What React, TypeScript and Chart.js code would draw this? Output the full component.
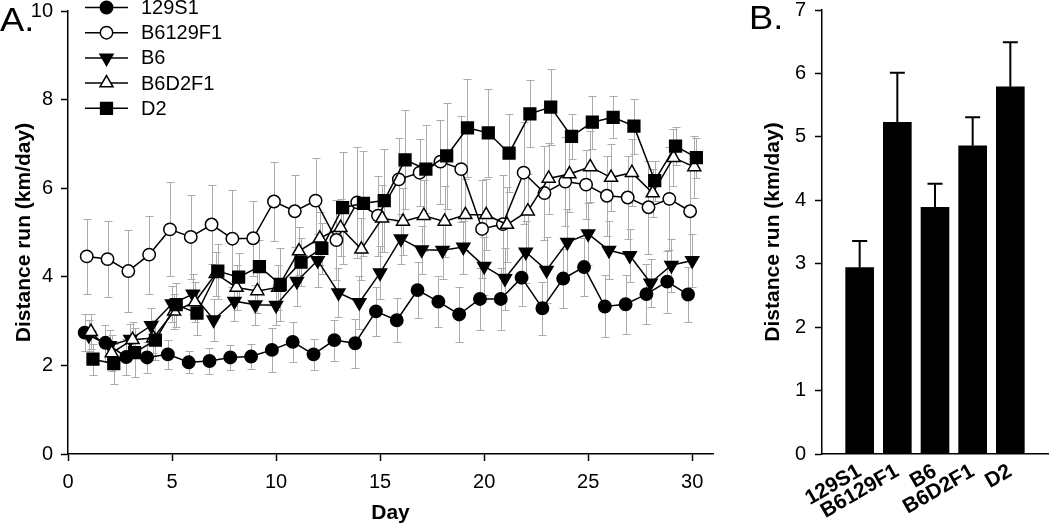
import React, { useEffect, useRef } from 'react';
import { Chart, registerables } from 'chart.js';
import { drawPoint } from 'chart.js/helpers';

Chart.register(...registerables);

// ---------- DATA ----------
const DAYS = [1, 2, 3, 4, 5, 6, 7, 8, 9, 10, 11, 12, 13, 14, 15, 16, 17, 18, 19, 20, 21, 22, 23, 24, 25, 26, 27, 28, 29, 30];
const SERIES_NAMES = ['129S1', 'B6129F1', 'B6', 'B6D2F1', 'D2'];

const S_129S1 = [2.74, 2.51, 2.19, 2.18, 2.25, 2.07, 2.10, 2.18, 2.20, 2.35, 2.53, 2.25, 2.57, 2.50, 3.22, 3.02, 3.70, 3.44, 3.15, 3.50, 3.50, 3.98, 3.29, 3.96, 4.22, 3.33, 3.38, 3.61, 3.89, 3.60];
const S_B6129F1 = [4.46, 4.40, 4.13, 4.50, 5.07, 4.90, 5.18, 4.86, 4.87, 5.70, 5.48, 5.72, 4.83, 5.68, 5.38, 6.20, 6.35, 6.60, 6.43, 5.08, 5.19, 6.35, 5.89, 6.15, 6.08, 5.83, 5.79, 5.57, 5.76, 5.48];
const S_B6 = [2.68, 2.45, 2.59, 2.90, 3.39, 3.61, 3.03, 3.45, 3.37, 3.36, 3.90, 4.37, 3.64, 3.42, 4.09, 4.86, 4.61, 4.60, 4.67, 4.24, 3.96, 4.56, 4.15, 4.78, 4.97, 4.60, 4.48, 3.86, 4.26, 4.37];
const S_B6D2F1 = [2.76, 2.28, 2.58, 2.62, 3.22, 3.43, 4.07, 3.76, 3.68, 3.76, 4.58, 4.87, 5.11, 4.62, 5.32, 5.25, 5.38, 5.25, 5.40, 5.40, 5.18, 5.48, 6.22, 6.32, 6.48, 6.24, 6.35, 5.89, 6.69, 6.48];
const S_D2 = [2.14, 2.04, 2.29, 2.57, 3.37, 3.18, 4.13, 3.99, 4.23, 3.83, 4.33, 4.64, 5.56, 5.66, 5.72, 6.64, 6.43, 6.73, 7.36, 7.25, 6.79, 7.68, 7.83, 7.17, 7.49, 7.60, 7.40, 6.17, 6.95, 6.69];

const E_129S1 = [0.42, 0.40, 0.40, 0.35, 0.33, 0.25, 0.30, 0.28, 0.28, 0.50, 0.45, 0.35, 0.46, 0.55, 0.55, 0.50, 0.64, 0.57, 0.63, 0.70, 0.70, 0.65, 0.60, 0.67, 0.65, 0.70, 0.67, 0.68, 0.70, 0.63];
const E_B6129F1 = [0.85, 0.85, 0.92, 0.88, 1.06, 0.94, 0.90, 1.10, 0.85, 0.90, 0.81, 0.96, 0.90, 1.25, 0.90, 0.94, 0.75, 0.95, 1.20, 1.10, 1.10, 1.15, 1.06, 1.00, 0.78, 0.90, 0.94, 1.05, 1.16, 1.06];
const E_B6 = [0.35, 0.35, 0.35, 0.40, 0.40, 0.45, 0.47, 0.45, 0.45, 0.45, 0.55, 0.60, 0.55, 0.60, 0.60, 0.56, 0.54, 0.65, 0.60, 0.65, 0.70, 0.70, 0.75, 0.75, 0.70, 0.65, 0.60, 0.55, 0.60, 0.60];
const E_B6D2F1 = [0.40, 0.40, 0.40, 0.35, 0.40, 0.45, 0.50, 0.50, 0.50, 0.50, 0.55, 0.60, 0.65, 0.70, 0.75, 0.75, 0.80, 0.80, 0.80, 0.80, 0.85, 0.85, 0.80, 0.85, 0.80, 0.75, 0.75, 0.55, 0.65, 0.70];
const E_D2 = [0.35, 0.45, 0.55, 0.45, 0.50, 0.50, 0.62, 0.55, 0.60, 0.82, 0.54, 0.58, 1.26, 1.18, 1.16, 1.12, 0.99, 1.20, 1.10, 1.00, 0.88, 0.76, 0.86, 0.50, 0.60, 0.47, 0.62, 0.45, 0.43, 0.45];

const X_TICKS_A = [0, 5, 10, 15, 20, 25, 30];
const Y_TICKS_A = [0, 2, 4, 6, 8, 10];

const BAR_LABELS = ['129S1', 'B6129F1', 'B6', 'B6D2F1', 'D2'];
const BAR_MEANS = [2.94, 5.23, 3.89, 4.86, 5.79];
const BAR_SEM = [0.42, 0.78, 0.37, 0.45, 0.70];
const Y_TICKS_B = [0, 1, 2, 3, 4, 5, 6, 7];

const Y_TITLE = 'Distance run (km/day)';
const X_TITLE = 'Day';

// ---------- STYLES ----------
const FONT = '"Liberation Sans", Arial, Helvetica, sans-serif';
const SERIES_VALUES = [S_129S1, S_B6129F1, S_B6, S_B6D2F1, S_D2];
const SERIES_ERRORS = [E_129S1, E_B6129F1, E_B6, E_B6D2F1, E_D2];
const SERIES_STYLE = [
  { shift: -0.2, pointStyle: 'circle', fill: '#000000', radius: 6.2, rotation: 0 },
  { shift: -0.1, pointStyle: 'circle', fill: '#ffffff', radius: 6.2, rotation: 0 },
  { shift: 0, pointStyle: 'triangle', fill: '#000000', radius: 7.5, rotation: 180 },
  { shift: 0.1, pointStyle: 'triangle', fill: '#ffffff', radius: 7.5, rotation: 0 },
  { shift: 0.2, pointStyle: 'rect', fill: '#000000', radius: 8.3, rotation: 0 },
];

const errorBarsA = {
  id: 'errorBarsA',
  beforeDatasetsDraw(chart: any) {
    const { ctx, scales } = chart;
    const xs = scales.x, ys = scales.y;
    ctx.save();
    ctx.strokeStyle = '#acacac';
    ctx.lineWidth = 1;
    chart.data.datasets.forEach((ds: any) => {
      ds.data.forEach((p: any, i: number) => {
        const e = ds.errors[i];
        const px = Math.round(xs.getPixelForValue(p.x)) + 0.5;
        const top = Math.round(ys.getPixelForValue(p.y + e)) + 0.5;
        const bot = Math.round(ys.getPixelForValue(p.y - e)) + 0.5;
        ctx.beginPath();
        ctx.moveTo(px, top); ctx.lineTo(px, bot);
        ctx.moveTo(px - 4, top); ctx.lineTo(px + 4, top);
        ctx.moveTo(px - 4, bot); ctx.lineTo(px + 4, bot);
        ctx.stroke();
      });
    });
    ctx.restore();
  },
};

const legendA = {
  id: 'legendA',
  afterDraw(chart: any) {
    const { ctx } = chart;
    ctx.save();
    chart.data.datasets.forEach((ds: any, i: number) => {
      const st = SERIES_STYLE[i];
      const yy = 7.5 + i * 25.2;
      ctx.strokeStyle = '#000';
      ctx.lineWidth = 1.5;
      ctx.beginPath();
      ctx.moveTo(85, yy); ctx.lineTo(128, yy);
      ctx.stroke();
      ctx.fillStyle = st.fill;
      ctx.strokeStyle = '#000';
      ctx.lineWidth = 1.5;
      drawPoint(ctx, { pointStyle: st.pointStyle as any, rotation: st.rotation, radius: st.radius, borderWidth: 1.5 }, 106.5, yy);
      ctx.fillStyle = '#000';
      ctx.font = `20px ${FONT}`;
      ctx.textBaseline = 'middle';
      ctx.textAlign = 'left';
      ctx.fillText(ds.label, 141, yy + 1);
    });
    ctx.restore();
  },
};

const makePanelLabel = (text: string, x: number, y: number) => ({
  id: 'panelLabel',
  afterDraw(chart: any) {
    const { ctx } = chart;
    ctx.save();
    ctx.translate(x, y);
    ctx.scale(1.1, 1);
    ctx.fillStyle = '#000';
    ctx.font = `33px ${FONT}`;
    ctx.textBaseline = 'alphabetic';
    ctx.textAlign = 'left';
    ctx.fillText(text, 0, 0);
    ctx.restore();
  },
});

const errorBarsB = {
  id: 'errorBarsB',
  afterDatasetsDraw(chart: any) {
    const { ctx, scales } = chart;
    const xs = scales.x, ys = scales.y;
    ctx.save();
    ctx.strokeStyle = '#000';
    ctx.lineWidth = 2;
    BAR_MEANS.forEach((m, i) => {
      const px = xs.getPixelForValue(i + 1);
      const top = ys.getPixelForValue(m + BAR_SEM[i]);
      const base = ys.getPixelForValue(m);
      ctx.beginPath();
      ctx.moveTo(px, base); ctx.lineTo(px, top);
      ctx.moveTo(px - 7.5, top); ctx.lineTo(px + 7.5, top);
      ctx.stroke();
    });
    ctx.restore();
  },
};

const fitVertical = (w: number) => (s: any) => {
  s.width = w;
  s.paddingTop = 0;
  s.paddingBottom = 0;
};
const fitHorizontal = (h: number) => (s: any) => {
  s.height = h;
  s.paddingLeft = 0;
  s.paddingRight = 0;
};

function buildConfigA(): any {
  return {
    type: 'line',
    data: {
      datasets: SERIES_VALUES.map((vals, k) => ({
        label: SERIES_NAMES[k],
        data: DAYS.map((d, i) => ({ x: d + SERIES_STYLE[k].shift, y: vals[i] })),
        errors: SERIES_ERRORS[k],
        borderColor: '#000',
        borderWidth: 1.5,
        pointStyle: SERIES_STYLE[k].pointStyle,
        pointRadius: SERIES_STYLE[k].radius,
        pointRotation: SERIES_STYLE[k].rotation,
        pointBackgroundColor: SERIES_STYLE[k].fill,
        pointBorderColor: '#000',
        pointBorderWidth: 1.5,
        pointHoverRadius: SERIES_STYLE[k].radius,
        fill: false,
        tension: 0,
        order: SERIES_VALUES.length - k,
      })),
    },
    options: {
      animation: false,
      responsive: true,
      maintainAspectRatio: false,
      events: [],
      layout: { padding: { left: 0, right: 27, top: 11, bottom: 0 } },
      plugins: { legend: { display: false }, tooltip: { enabled: false } },
      scales: {
        x: {
          type: 'linear',
          min: 0,
          max: 31,
          afterBuildTicks: (s: any) => { s.ticks = X_TICKS_A.map((v) => ({ value: v })); },
          afterFit: fitHorizontal(72),
          grid: { drawOnChartArea: false, drawTicks: true, tickLength: 7, tickColor: '#000', tickWidth: 1.5 },
          border: { display: true, color: '#000', width: 1.5 },
          ticks: { font: { family: FONT, size: 20 }, color: '#000', padding: 9, maxRotation: 0 },
          title: { display: true, text: X_TITLE, color: '#000', font: { family: FONT, size: 21, weight: 'bold' }, padding: { top: 0, bottom: 0 } },
        },
        y: {
          type: 'linear',
          min: 0,
          max: 10,
          afterBuildTicks: (s: any) => { s.ticks = Y_TICKS_A.map((v) => ({ value: v })); },
          afterFit: fitVertical(68),
          grid: { drawOnChartArea: false, drawTicks: true, tickLength: 7, tickColor: '#000', tickWidth: 1.5 },
          border: { display: true, color: '#000', width: 1.5 },
          ticks: { font: { family: FONT, size: 20 }, color: '#000', padding: 8 },
          title: { display: true, text: Y_TITLE, color: '#000', font: { family: FONT, size: 21, weight: 'bold' }, padding: { top: 12, bottom: 0 } },
        },
      },
    },
    plugins: [errorBarsA, legendA, makePanelLabel('A.', 0, 31)],
  };
}

function buildConfigB(): any {
  return {
    type: 'bar',
    data: {
      labels: ['', ...BAR_LABELS, ''],
      datasets: [
        {
          label: 'mean',
          data: [null, ...BAR_MEANS, null],
          backgroundColor: '#000',
          borderWidth: 0,
          barThickness: 28,
        },
      ],
    },
    options: {
      animation: false,
      responsive: true,
      maintainAspectRatio: false,
      events: [],
      layout: { padding: { left: 0, right: 2, top: 10, bottom: 0 } },
      plugins: { legend: { display: false }, tooltip: { enabled: false } },
      scales: {
        x: {
          type: 'category',
          offset: false,
          afterFit: fitHorizontal(72),
          grid: { display: false, drawTicks: false },
          border: { display: true, color: '#000', width: 1.5 },
          ticks: { font: { family: FONT, size: 21, weight: 'bold' }, color: '#000', padding: 5, minRotation: 30, maxRotation: 30, autoSkip: false },
        },
        y: {
          type: 'linear',
          min: 0,
          max: 7,
          afterBuildTicks: (s: any) => { s.ticks = Y_TICKS_B.map((v) => ({ value: v })); },
          afterFit: fitVertical(82),
          grid: { drawOnChartArea: false, drawTicks: true, tickLength: 7, tickColor: '#000', tickWidth: 1.5 },
          border: { display: true, color: '#000', width: 1.5 },
          ticks: { font: { family: FONT, size: 20 }, color: '#000', padding: 9 },
          title: { display: true, text: Y_TITLE, color: '#000', font: { family: FONT, size: 21, weight: 'bold' }, padding: { top: 21, bottom: 0 } },
        },
      },
    },
    plugins: [errorBarsB, makePanelLabel('B.', 9, 29)],
  };
}

export default function App() {
  const refA = useRef<HTMLCanvasElement>(null);
  const refB = useRef<HTMLCanvasElement>(null);

  useEffect(() => {
    const a = new Chart(refA.current as HTMLCanvasElement, buildConfigA());
    const b = new Chart(refB.current as HTMLCanvasElement, buildConfigB());
    return () => {
      a.destroy();
      b.destroy();
    };
  }, []);

  return (
    <div style={{ position: 'absolute', left: 0, top: 0, width: 1050, height: 526, background: '#ffffff' }}>
      <div style={{ position: 'absolute', left: 0, top: 0, width: 740, height: 526 }}>
        <canvas ref={refA} />
      </div>
      <div style={{ position: 'absolute', left: 740, top: 0, width: 310, height: 526 }}>
        <canvas ref={refB} />
      </div>
    </div>
  );
}
